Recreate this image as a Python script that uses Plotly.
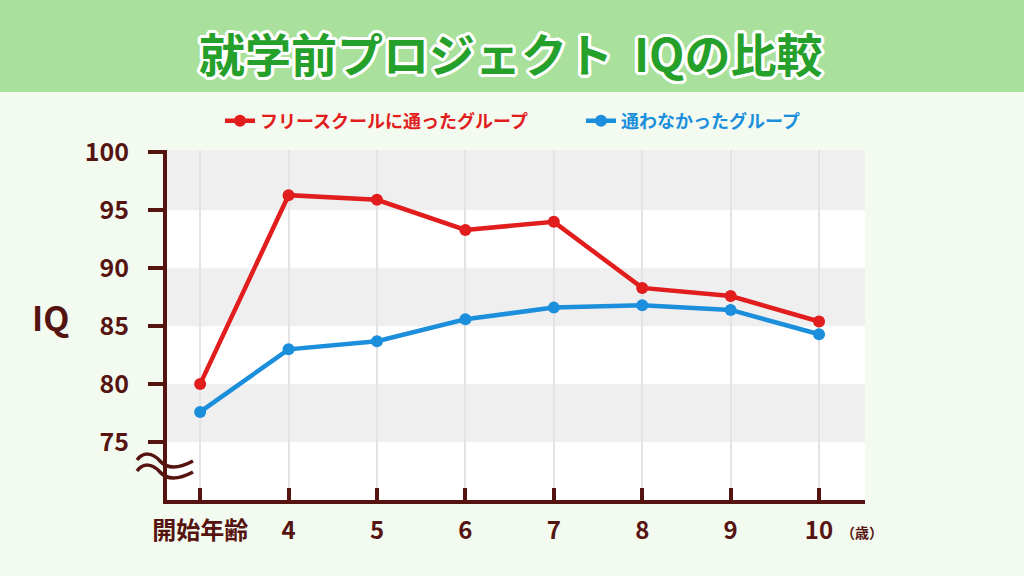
import plotly.graph_objects as go

categories = ["開始年齢", "4", "5", "6", "7", "8", "9", "10"]
free_school = [80.0, 96.3, 95.9, 93.3, 94.0, 88.3, 87.6, 85.4]
no_school = [77.6, 83.0, 83.7, 85.6, 86.6, 86.8, 86.4, 84.3]
y_ticks = [75, 80, 85, 90, 95, 100]
bands = [(75, 80), (85, 90), (95, 100.2)]

RED = "#e11d1d"
BLUE = "#1b8fdc"
BROWN = "#561410"
BG = "#f3fbf1"
GREEN = "#25a02a"
FONT = "Noto Sans CJK JP"

W, H = 1024, 576
L, R, T, B = 167, 159, 150, 76
pw, ph = W - L - R, H - T - B

def px(x):
    return (x - L) / pw

def py(y):
    return (H - B - y) / ph

xs = list(range(len(categories)))

fig = go.Figure()
fig.add_trace(go.Scatter(
    x=xs, y=free_school, mode="lines+markers",
    name=f'<span style="color:{RED}">フリースクールに通ったグループ</span>',
    line=dict(color=RED, width=4.5), marker=dict(color=RED, size=12),
    legend="legend"))
fig.add_trace(go.Scatter(
    x=xs, y=no_school, mode="lines+markers",
    name=f'<span style="color:{BLUE}">通わなかったグループ</span>',
    line=dict(color=BLUE, width=4.5), marker=dict(color=BLUE, size=12),
    legend="legend2"))

shapes = []
# title band
shapes.append(dict(type="rect", xref="paper", yref="paper",
                   x0=px(0), x1=px(W), y0=py(92), y1=py(0),
                   fillcolor="#a9e19c", line=dict(width=0), layer="below"))
for lo, hi in bands:
    shapes.append(dict(type="rect", xref="paper", yref="y", x0=0, x1=1,
                       y0=lo, y1=hi, fillcolor="#efefef",
                       line=dict(width=0), layer="below"))

# axis break symbol (two waves)
def wave(y0):
    return (f"M {px(137)},{py(y0)} "
            f"C {px(143)},{py(y0-8)} {px(152)},{py(y0-8)} {px(160)},{py(y0+1)} "
            f"C {px(167)},{py(y0+9)} {px(178)},{py(y0+9)} {px(193)},{py(y0+1)}")

for y0 in (460, 471):
    shapes.append(dict(type="path", xref="paper", yref="paper", path=wave(y0),
                       line=dict(color=BROWN, width=3.5)))

TITLE = "就学前プロジェクト  IQの比較"
outline = ", ".join(f"{dx}px {dy}px 0 #ffffff" for dx, dy in
                    [(3, 0), (-3, 0), (0, 3), (0, -3), (2, 2), (-2, 2), (2, -2), (-2, -2),
                     (3, 1), (3, -1), (-3, 1), (-3, -1), (1, 3), (-1, 3), (1, -3), (-1, -3)])
annotations = [
    dict(text=TITLE, xref="paper", yref="paper",
         x=px(510), y=py(52), showarrow=False, xanchor="center", yanchor="middle",
         font=dict(family=FONT, size=46, color=GREEN, weight="bold", shadow=outline)),
    dict(text="IQ", xref="paper", yref="paper", x=px(50), y=py(316),
         showarrow=False, xanchor="center", yanchor="middle",
         font=dict(family=FONT, size=34, color=BROWN, weight="bold")),
    dict(text="（歳）", xref="paper", yref="paper", x=px(862), y=py(532),
         showarrow=False, xanchor="center", yanchor="middle",
         font=dict(family=FONT, size=14, color=BROWN, weight="bold")),
]

legend_common = dict(orientation="h", yanchor="middle", xanchor="left",
                     bgcolor="rgba(0,0,0,0)",
                     font=dict(family=FONT, size=18, weight="bold"))

fig.update_layout(
    width=W, height=H,
    margin=dict(l=L, r=R, t=T, b=B),
    paper_bgcolor=BG, plot_bgcolor="white",
    font=dict(family=FONT, color=BROWN),
    shapes=shapes, annotations=annotations,
    showlegend=True,
    legend=dict(x=px(220), y=py(121), **legend_common),
    legend2=dict(x=px(581), y=py(121), **legend_common),
    xaxis=dict(range=[-0.375, 7.52], tickmode="array", tickvals=xs, ticktext=categories,
               showgrid=True, gridcolor="#e3e3e3", gridwidth=2, zeroline=False,
               showline=True, linecolor=BROWN, linewidth=4,
               ticks="inside", ticklen=12, tickwidth=4, tickcolor=BROWN,
               ticklabelstandoff=6,
               tickfont=dict(family=FONT, size=24, color=BROWN, weight="bold"),
               fixedrange=True),
    yaxis=dict(range=[70, 100.2], tickmode="array", tickvals=y_ticks,
               showgrid=False, zeroline=False,
               showline=True, linecolor=BROWN, linewidth=4,
               ticks="outside", ticklen=15, tickwidth=3.5, tickcolor=BROWN,
               ticklabelstandoff=14,
               tickfont=dict(family=FONT, size=25, color=BROWN, weight="bold"),
               fixedrange=True),
)

fig.write_html("out.html", config={"displayModeBar": False})
